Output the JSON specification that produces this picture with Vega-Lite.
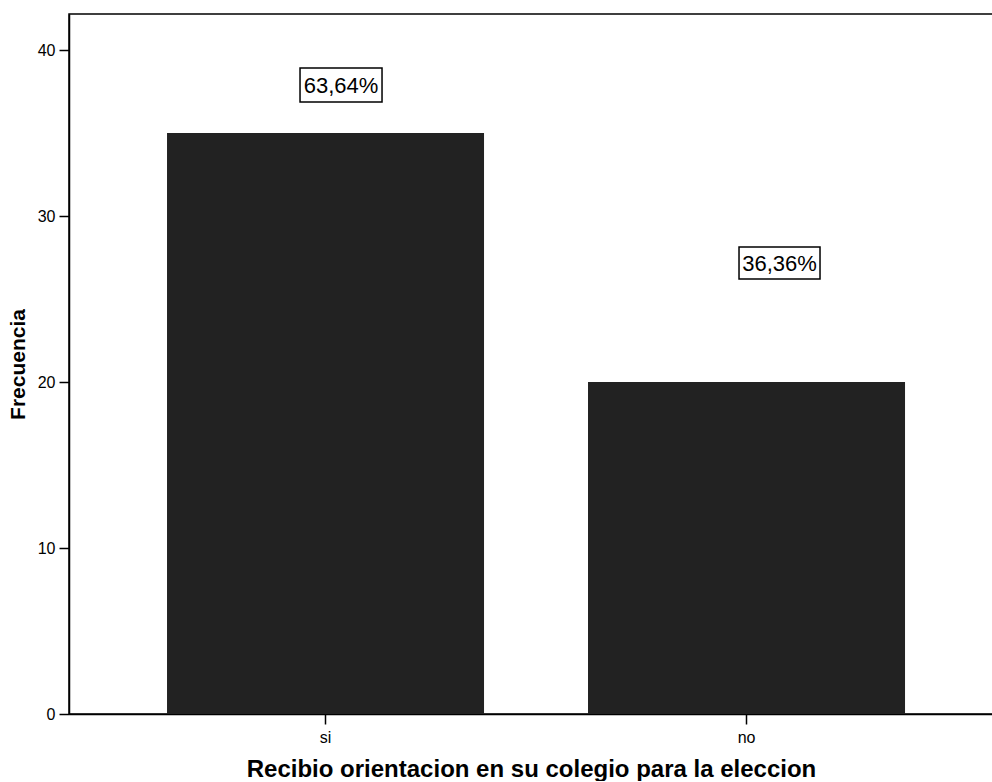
{
  "$schema": "https://vega.github.io/schema/vega-lite/v6.json",
  "width": 924,
  "height": 700,
  "padding": {"left": 7, "top": 14, "right": 0, "bottom": 0},
  "background": "white",
  "config": {
    "font": "Liberation Sans",
    "view": {"stroke": "black", "strokeWidth": 1.5},
    "axis": {
      "domainColor": "black",
      "domainWidth": 1.5,
      "tickColor": "black",
      "tickWidth": 1.5,
      "tickSize": 10,
      "labelColor": "black",
      "titleColor": "black",
      "labelFont": "Liberation Sans",
      "titleFont": "Liberation Sans",
      "grid": false
    }
  },
  "data": {
    "values": [
      {"cat": "si", "freq": 35, "pct": "63,64%"},
      {"cat": "no", "freq": 20, "pct": "36,36%"}
    ]
  },
  "encoding": {
    "x": {
      "field": "cat",
      "type": "nominal",
      "sort": ["si", "no"],
      "scale": {"paddingInner": 0.247, "paddingOuter": 0.2209, "align": 0.527},
      "axis": {
        "title": "Recibio orientacion en su colegio para la eleccion",
        "titleFontSize": 24,
        "titleFontWeight": "bold",
        "titlePadding": 12,
        "labelAngle": 0,
        "labelFontSize": 16,
        "labelPadding": 5
      }
    },
    "y": {
      "field": "freq",
      "type": "quantitative",
      "scale": {"domain": [0, 42.17], "nice": false, "zero": true},
      "axis": {
        "title": "Frecuencia",
        "titleFontSize": 21,
        "titleFontWeight": "bold",
        "titlePadding": 9,
        "values": [0, 10, 20, 30, 40],
        "labelFontSize": 16,
        "labelPadding": 4
      }
    }
  },
  "layer": [
    {"mark": {"type": "bar", "color": "#222222"}},
    {
      "transform": [{"filter": "datum.cat == 'si'"}],
      "mark": {"type": "point", "shape": "M-1,-0.4146L1,-0.4146L1,0.4146L-1,0.4146Z", "size": 6724, "filled": false, "fill": "white", "stroke": "black", "strokeWidth": 1.5, "opacity": 1, "xOffset": 15.5, "yOffset": -48}
    },
    {
      "transform": [{"filter": "datum.cat == 'si'"}],
      "mark": {"type": "text", "fontSize": 22, "color": "black", "baseline": "middle", "align": "center", "xOffset": 15.5, "yOffset": -47},
      "encoding": {"text": {"field": "pct"}}
    },
    {
      "transform": [{"filter": "datum.cat == 'no'"}],
      "mark": {"type": "point", "shape": "M-1,-0.3951L1,-0.3951L1,0.3951L-1,0.3951Z", "size": 6561, "filled": false, "fill": "white", "stroke": "black", "strokeWidth": 1.5, "opacity": 1, "xOffset": 33, "yOffset": -119}
    },
    {
      "transform": [{"filter": "datum.cat == 'no'"}],
      "mark": {"type": "text", "fontSize": 22, "color": "black", "baseline": "middle", "align": "center", "xOffset": 33, "yOffset": -118},
      "encoding": {"text": {"field": "pct"}}
    }
  ]
}
